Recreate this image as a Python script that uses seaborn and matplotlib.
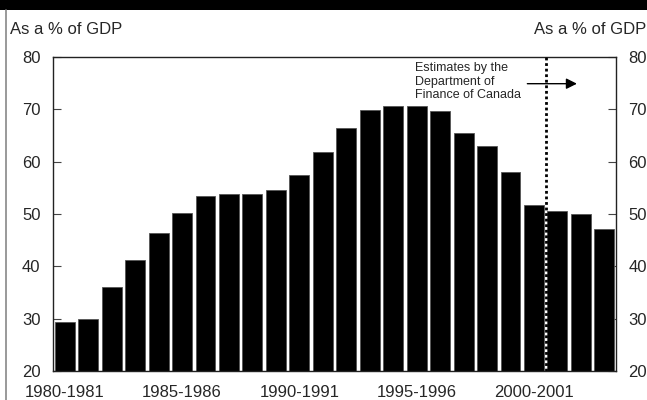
import matplotlib
matplotlib.use("Agg")
import matplotlib.pyplot as plt
from matplotlib.lines import Line2D
from matplotlib.patches import Rectangle
import seaborn as sns
import pandas as pd

# Fiscal years and debt ratio (per cent of GDP)
years = [f"{y}-{y + 1}" for y in range(1980, 2004)]
debt_pct = [29.3, 30.0, 36.0, 41.3, 46.4, 50.1, 53.5, 53.8, 53.8, 54.5,
            57.4, 61.9, 66.5, 69.8, 70.7, 70.7, 69.6, 65.5, 63.0, 58.0,
            51.8, 50.5, 50.0, 47.2]
tick_years = ["1980-1981", "1985-1986", "1990-1991", "1995-1996", "2000-2001"]
y_ticks = [20, 30, 40, 50, 60, 70, 80]
unit_label = "As a % of GDP"
estimate_note = "Estimates by the\nDepartment of\nFinance of Canada"
estimate_start = "2000-2001"

sns.set_theme(style="ticks")
plt.rcParams["font.family"] = ["Liberation Sans", "DejaVu Sans"]

df = pd.DataFrame({"year": years, "debt": debt_pct})

fig = plt.figure(figsize=(6.47, 4.0), dpi=100)
ax = fig.add_axes([0.0819, 0.0725, 0.8703, 0.785])

sns.barplot(data=df, x="year", y="debt", order=years, color="black",
            saturation=1, width=0.85, edgecolor="#555555", linewidth=0.6,
            ax=ax)

ax.set_ylim(y_ticks[0], y_ticks[-1])
ax.set_xlim(-0.5, len(years) - 0.5)
ax.set_yticks(y_ticks)
ax.set_xticks([years.index(t) for t in tick_years])
ax.set_xticklabels(tick_years)
ax.set_xlabel("")
ax.set_ylabel("")

for side in ["left", "right", "top", "bottom"]:
    ax.spines[side].set_visible(True)
    ax.spines[side].set_color("#222222")
    ax.spines[side].set_linewidth(1.0)

ax.tick_params(axis="y", which="both", left=True, right=True,
               labelleft=True, labelright=True, direction="in",
               length=6, width=0.8, color="#444444", labelsize=12, pad=9)
ax.tick_params(axis="x", length=0, labelsize=12, pad=10)

# Boundary between actual and estimated years
split = years.index(estimate_start) + 0.5
ax.axvline(split, color="black", linestyle=(0, (1, 1)), linewidth=2.0,
           zorder=5)

ax.text(14.95, 79.1, estimate_note, ha="left", va="top",
        fontsize=9, linespacing=1.2)
ax.annotate("", xy=(21.95, 74.9), xytext=(19.6, 74.9),
            arrowprops=dict(arrowstyle="-|>", color="black", lw=1.0,
                            mutation_scale=16))

# Header band and units
fig.add_artist(Rectangle((0, 0.975), 1, 0.025, transform=fig.transFigure,
                         facecolor="black", edgecolor="none"))
fig.add_artist(Line2D([0.0095, 0.0095], [0.0, 0.975],
                      transform=fig.transFigure, color="#888888", lw=1.2))
fig.text(0.016, 0.925, unit_label, ha="left", va="center", fontsize=12)
fig.text(0.999, 0.925, unit_label, ha="right", va="center", fontsize=12)

fig.savefig("out.png", dpi=100)
